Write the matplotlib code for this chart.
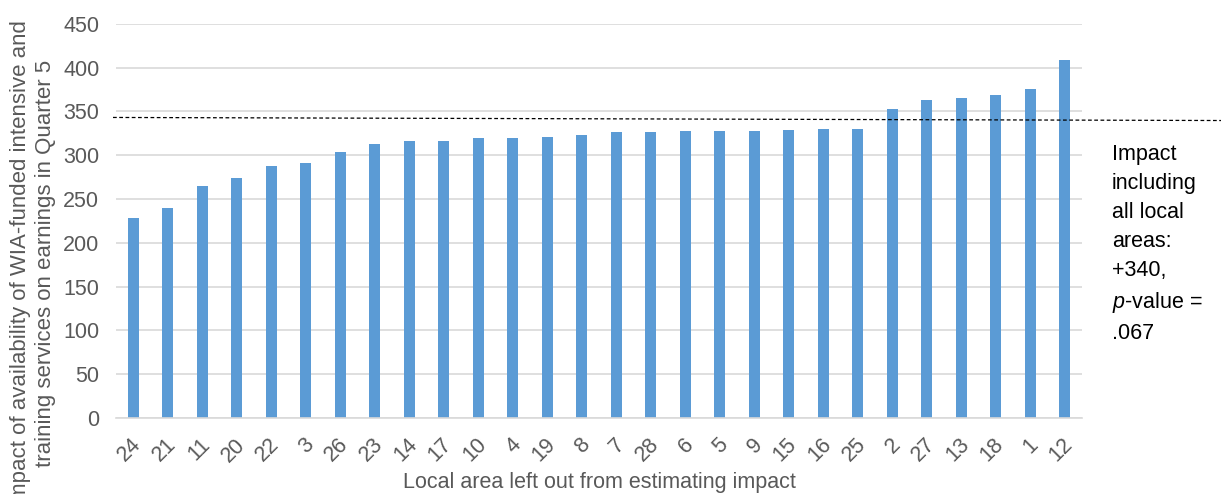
import matplotlib
matplotlib.use("Agg")
import matplotlib.pyplot as plt
from matplotlib.transforms import blended_transform_factory, ScaledTranslation

plt.rcParams["font.family"] = ["Liberation Sans", "DejaVu Sans"]
plt.rcParams["mathtext.fontset"] = "custom"
plt.rcParams["mathtext.rm"] = "Liberation Sans"
plt.rcParams["mathtext.it"] = "Liberation Sans:italic"

# Local area left out, and the impact estimate without it
areas = ["24", "21", "11", "20", "22", "3", "26", "23", "14", "17", "10", "4", "19", "8",
         "7", "28", "6", "5", "9", "15", "16", "25", "2", "27", "13", "18", "1", "12"]
impacts = [228, 240, 265, 274, 288, 291, 304, 313, 316, 316, 320, 320, 321, 323,
           326, 326, 327, 328, 328, 329, 330, 330, 353, 363, 365, 369, 376, 409]
yticks = [0, 50, 100, 150, 200, 250, 300, 350, 400, 450]
overall_impact = 340

gray = "#595959"

fig = plt.figure(figsize=(12.21, 4.94), dpi=100)
ax = fig.add_axes([116 / 1221, 1 - 418 / 494, (1082 - 116) / 1221, (418 - 23.7) / 494])

x = range(len(areas))
ax.bar(x, impacts, width=0.31, color="#5B9BD5", zorder=2)

ax.set_xlim(-0.5, len(areas) - 0.5)
ax.set_ylim(0, 450)
ax.set_yticks(yticks)
ax.set_xticks(list(x))
ax.set_xticklabels(areas, rotation=45, ha="right", va="center", rotation_mode="anchor")
ax.tick_params(axis="both", length=0, labelsize=15.5, colors=gray)
ax.tick_params(axis="y", pad=12)
ax.tick_params(axis="x", pad=17)
shift = ScaledTranslation(5 / 100, 0, fig.dpi_scale_trans)
for lbl in ax.get_xticklabels():
    lbl.set_transform(lbl.get_transform() + shift)
ax.grid(axis="y", color="#D9D9D9", linewidth=1.2, zorder=0)
for s in ["top", "right", "left"]:
    ax.spines[s].set_visible(False)
ax.spines["bottom"].set_color("#D9D9D9")
ax.spines["bottom"].set_linewidth(1.2)

ax.set_xlabel("Local area left out from estimating impact", fontsize=15.5, color=gray, labelpad=4)
fig.text(0.027, 0.466,
         "Impact of availability of WIA-funded intensive and\ntraining services on earnings in Quarter 5",
         rotation=90, ha="center", va="center", multialignment="center",
         fontsize=16, color=gray, linespacing=1.2)

# dashed reference line for the pooled estimate, running out past the plot
tr = blended_transform_factory(fig.transFigure, ax.transData)
ax.plot([113 / 1221, 1.0], [overall_impact + 3, overall_impact - 0.5], transform=tr,
        color="black", linestyle=(0, (3, 2)), linewidth=0.9, clip_on=False, zorder=3)

fig.text(1112 / 1221, 1 - 144 / 494,
         "Impact\nincluding\nall local\nareas:\n+340,\n$p$-value =\n.067",
         ha="left", va="top", fontsize=15.5, color="black", linespacing=1.5)

fig.savefig("out.png", dpi=100)
